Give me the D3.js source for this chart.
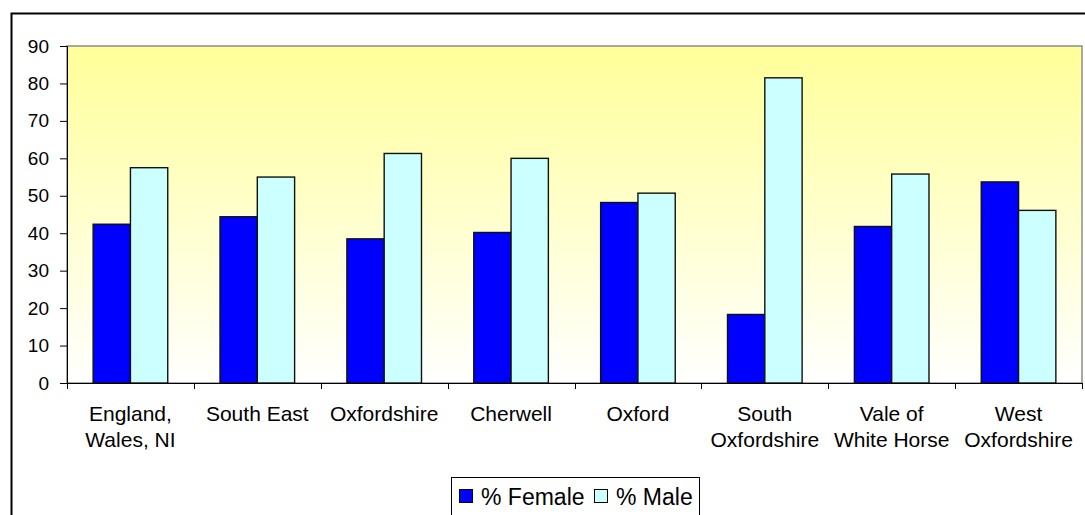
<!DOCTYPE html>
<html>
<head>
<meta charset="utf-8">
<script src="https://cdn.jsdelivr.net/npm/d3@7"></script>
<style>
  html, body { margin: 0; padding: 0; background: #fff; }
  svg { display: block; font-family: Arial, "Liberation Sans", sans-serif; }
</style>
</head>
<body>
<svg id="chart"></svg>
<script>
// Chart data
const categories = [
    ["England,", "Wales, NI"],
    ["South East"],
    ["Oxfordshire"],
    ["Cherwell"],
    ["Oxford"],
    ["South", "Oxfordshire"],
    ["Vale of", "White Horse"],
    ["West", "Oxfordshire"]
];
const femaleValues = [42.4, 44.4, 38.5, 40.2, 48.2, 18.3, 41.8, 53.7];
const maleValues = [57.5, 55.0, 61.3, 60.0, 50.7, 81.5, 55.8, 46.1];
const seriesNames = ["% Female", "% Male"];
const yTicks = [0, 10, 20, 30, 40, 50, 60, 70, 80, 90];

const width = 1085;
const height = 515;
const plot = { left: 67, right: 1082, top: 46, bottom: 383 };
const colors = ["#0000ff", "#ccffff"];

const svg = d3.select("#chart")
    .attr("width", width)
    .attr("height", height);

// Gradient for the plot area (yellow at top fading to white)
const defs = svg.append("defs");
const grad = defs.append("linearGradient")
    .attr("id", "plotGrad")
    .attr("x1", 0).attr("y1", 0)
    .attr("x2", 0).attr("y2", 1);
grad.append("stop").attr("offset", "0%").attr("stop-color", "#ffff99");
grad.append("stop").attr("offset", "100%").attr("stop-color", "#ffffff");

// Outer chart frame (runs off the right and bottom edges)
svg.append("rect")
    .attr("x", 13).attr("y", 15)
    .attr("width", 1100).attr("height", 520)
    .attr("fill", "none")
    .attr("stroke", "#999")
    .attr("stroke-width", 2);
svg.append("rect")
    .attr("x", 11.5).attr("y", 13.5)
    .attr("width", 1100).attr("height", 520)
    .attr("fill", "#fff")
    .attr("stroke", "#000")
    .attr("stroke-width", 2);

// Scales
const x0 = d3.scaleBand()
    .domain(d3.range(categories.length))
    .range([plot.left, plot.right])
    .paddingInner(0.412)
    .paddingOuter(0.206);

const x1 = d3.scaleBand()
    .domain([0, 1])
    .range([0, x0.bandwidth()]);

const y = d3.scaleLinear()
    .domain([0, 90])
    .range([plot.bottom, plot.top]);

// Plot background
svg.append("rect")
    .attr("x", plot.left)
    .attr("y", plot.top)
    .attr("width", plot.right - plot.left)
    .attr("height", plot.bottom - plot.top)
    .attr("fill", "url(#plotGrad)")
    .attr("stroke", "#8c8c8c")
    .attr("stroke-width", 1.5);

// Bars
const groups = svg.append("g")
    .selectAll("g")
    .data(categories.map((c, i) => [femaleValues[i], maleValues[i]]))
    .join("g")
    .attr("transform", (d, i) => `translate(${x0(i)},0)`);

groups.selectAll("rect")
    .data(d => d)
    .join("rect")
    .attr("x", (d, j) => x1(j))
    .attr("y", d => y(d))
    .attr("width", x1.bandwidth())
    .attr("height", d => y(0) - y(d))
    .attr("fill", (d, j) => colors[j])
    .attr("stroke", "#111")
    .attr("stroke-width", 1.4);

// Y axis
const yAxis = svg.append("g")
    .attr("transform", `translate(${plot.left},0)`)
    .call(d3.axisLeft(y).tickValues(yTicks).tickSize(7).tickPadding(11));
yAxis.select(".domain").attr("stroke", "#000");
yAxis.selectAll(".tick line").attr("stroke", "#000");
yAxis.selectAll(".tick text")
    .attr("fill", "#000")
    .style("font-size", "19px")
    .style("font-family", "Arial, 'Liberation Sans', sans-serif");

// X axis line and category boundary ticks
const step = x0.step();
const boundaries = d3.range(categories.length + 1).map(i => plot.left + i * step);
svg.append("line")
    .attr("x1", plot.left).attr("x2", plot.right)
    .attr("y1", plot.bottom + 0.5).attr("y2", plot.bottom + 0.5)
    .attr("stroke", "#000");
svg.append("g")
    .selectAll("line")
    .data(boundaries)
    .join("line")
    .attr("x1", d => Math.round(d) + 0.5).attr("x2", d => Math.round(d) + 0.5)
    .attr("y1", plot.bottom).attr("y2", plot.bottom + 6)
    .attr("stroke", "#000");

// Category labels
const labels = svg.append("g")
    .selectAll("text")
    .data(categories)
    .join("text")
    .attr("x", (d, i) => x0(i) + x0.bandwidth() / 2)
    .attr("y", 421)
    .attr("text-anchor", "middle")
    .style("font-size", "21px")
    .attr("fill", "#000");
labels.selectAll("tspan")
    .data(d => d)
    .join("tspan")
    .attr("x", function () { return d3.select(this.parentNode).attr("x"); })
    .attr("dy", (d, i) => i === 0 ? 0 : 26)
    .text(d => d);

// Legend
const legend = svg.append("g");
legend.append("rect")
    .attr("x", 451.5).attr("y", 477.5)
    .attr("width", 248).attr("height", 60)
    .attr("fill", "#fff")
    .attr("stroke", "#000");
const legendX = [459, 594];
seriesNames.forEach((name, i) => {
    legend.append("rect")
        .attr("x", legendX[i] + 0.5).attr("y", 489.5)
        .attr("width", 13).attr("height", 13)
        .attr("fill", colors[i])
        .attr("stroke", "#000");
    legend.append("text")
        .attr("x", legendX[i] + 22)
        .attr("y", 505)
        .style("font-size", "23px")
        .attr("fill", "#000")
        .text(name);
});
</script>
</body>
</html>
